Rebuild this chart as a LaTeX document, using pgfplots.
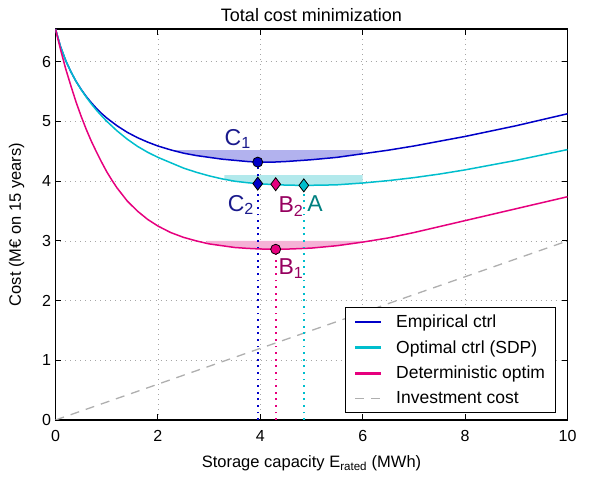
\documentclass[border=0pt]{standalone}
\usepackage{fontspec}
\setmainfont{Liberation Sans}
\usepackage{pgfplots}
\pgfplotsset{compat=1.18}
\definecolor{cblue}{RGB}{0,0,200}
\definecolor{ccyan}{RGB}{0,190,205}
\definecolor{cmag}{RGB}{230,0,126}
\definecolor{fblue}{RGB}{178,178,238}
\definecolor{fcyan}{RGB}{178,233,236}
\definecolor{fmag}{RGB}{245,178,214}
\definecolor{lblue}{RGB}{26,26,140}
\definecolor{lmag}{RGB}{150,0,95}
\definecolor{lteal}{RGB}{0,128,128}
\definecolor{cgray}{RGB}{175,175,175}
\begin{document}
\begin{tikzpicture}
\path[use as bounding box] (-55.5bp,-59bp) rectangle (545.5bp,420bp);
\begin{axis}[
  at={(0,0)}, anchor=south west,
  scale only axis, width=512bp, height=391bp,
  xmin=0, xmax=10, ymin=0, ymax=6.55,
  xtick={0,2,4,6,8,10}, ytick={0,1,2,3,4,5,6},
  tick align=inside, major tick length=6bp,
  grid=major,
  major grid style={black!35, line width=0.8bp, dash pattern=on 1bp off 4bp},
  axis line style={line width=1.2bp},
  tick style={black, line width=1bp},
  ticklabel style={font=\fontsize{16bp}{19bp}\selectfont},
  xticklabel shift=7bp, yticklabel shift=1bp,
  /pgf/number format/assume math mode=true,
  title={Total cost minimization},
  title style={font=\fontsize{18bp}{21bp}\selectfont, yshift=-2bp},
  xlabel={Storage capacity E\textsubscript{rated} (MWh)},
  ylabel={Cost (M€ on 15 years)},
  label style={font=\fontsize{16.5bp}{19bp}\selectfont},
  xlabel shift=7bp, ylabel shift=11bp,
  legend style={at={(0.9785,0.018)}, anchor=south east,
    font=\fontsize{17.5bp}{20bp}\selectfont, draw=black, line width=1bp,
    inner xsep=9bp, inner ysep=5bp, row sep=7.5bp,
    /tikz/every odd column/.append style={column sep=13bp}},
  legend cell align=left,
  legend image code/.code={\fill[#1] (0bp,-0.55bp) rectangle (25bp,0.55bp);},
]
% bands
\addplot[fill=fblue, draw=none, forget plot] coordinates {
 (2.25,4.52) (6.0,4.52) (6.0,4.46) (5.5,4.40) (5.0,4.36) (4.5,4.33) (4.25,4.32)
 (3.95,4.32) (3.75,4.33) (3.5,4.35) (3.25,4.37) (3.0,4.40) (2.75,4.43) (2.5,4.47) (2.25,4.525)} --cycle;
\addplot[fill=fcyan, draw=none, forget plot] coordinates {
 (3.3,4.10) (6.0,4.10) (6.0,3.97) (5.5,3.94) (5.25,3.935) (4.85,3.93) (4.5,3.935)
 (4.25,3.945) (4.0,3.955) (3.75,3.975) (3.5,4.00) (3.3,4.03)} --cycle;
\addplot[fill=fmag, draw=none, forget plot] coordinates {
 (2.95,3.00) (6.0,3.00) (6.0,2.98) (5.5,2.92) (5.0,2.88) (4.6,2.865) (4.3,2.86)
 (4.0,2.865) (3.75,2.875) (3.5,2.89) (3.25,2.92) (3.0,2.95) (2.95,2.955)} --cycle;
% curves
\addplot[cblue, line width=1.5bp] coordinates {
 (0,6.55) (0.1,6.25) (0.2,6.02) (0.3,5.835) (0.4,5.675) (0.5,5.54) (0.6,5.42) (0.7,5.315)
 (0.8,5.22) (0.9,5.135) (1.0,5.06) (1.2,4.93) (1.4,4.82) (1.6,4.73) (1.8,4.655) (2.0,4.59)
 (2.25,4.525) (2.5,4.47) (2.75,4.43) (3.0,4.40) (3.25,4.37) (3.5,4.35) (3.75,4.33) (3.95,4.32)
 (4.25,4.32) (4.5,4.33) (5.0,4.36) (5.5,4.40) (6.0,4.46) (6.5,4.52) (7.0,4.59) (7.5,4.67)
 (8.0,4.75) (8.5,4.84) (9.0,4.93) (9.5,5.03) (10,5.13)};
\addlegendentry{Empirical ctrl}
\addplot[ccyan, line width=1.5bp] coordinates {
 (0,6.55) (0.1,6.25) (0.2,6.02) (0.3,5.835) (0.4,5.675) (0.5,5.535) (0.6,5.41) (0.7,5.295)
 (0.8,5.19) (0.9,5.095) (1.0,5.005) (1.2,4.845) (1.4,4.705) (1.6,4.585) (1.8,4.485) (2.0,4.40)
 (2.25,4.31) (2.5,4.22) (2.75,4.15) (3.0,4.09) (3.25,4.04) (3.5,4.00) (3.75,3.975) (4.0,3.955)
 (4.25,3.945) (4.5,3.935) (4.85,3.93) (5.25,3.935) (5.5,3.94) (6.0,3.97) (6.5,4.01) (7.0,4.06)
 (7.5,4.12) (8.0,4.19) (8.5,4.27) (9.0,4.35) (9.5,4.44) (10,4.53)};
\addlegendentry{Optimal ctrl (SDP)}
\addplot[cmag, line width=1.5bp] coordinates {
 (0,6.55) (0.1,6.20) (0.2,5.88) (0.3,5.60) (0.4,5.33) (0.5,5.09) (0.6,4.87) (0.7,4.67)
 (0.8,4.49) (0.9,4.32) (1.0,4.16) (1.1,4.02) (1.2,3.89) (1.4,3.67) (1.6,3.50) (1.8,3.36)
 (2.0,3.25) (2.25,3.14) (2.5,3.06) (2.75,3.00) (3.0,2.95) (3.25,2.92) (3.5,2.89) (3.75,2.875)
 (4.0,2.865) (4.3,2.86) (4.6,2.865) (5.0,2.88) (5.5,2.92) (6.0,2.98) (6.5,3.05) (7.0,3.14)
 (7.5,3.24) (8.0,3.34) (8.5,3.44) (9.0,3.54) (9.5,3.64) (10,3.74)};
\addlegendentry{Deterministic optim}
\addplot[cgray, line width=1.3bp, dash pattern=on 9bp off 7bp,
  legend image code/.code={\draw[cgray, line width=1.4bp, dash pattern=on 9bp off 7bp] (0bp,0bp) -- (25bp,0bp);}]
  coordinates {(0,0) (10,3)};
\addlegendentry{Investment cost}
% dotted verticals
\addplot[cblue, line width=2bp, dash pattern=on 1.8bp off 4.8bp, forget plot] coordinates {(3.95,0) (3.95,4.32)};
\addplot[cmag, line width=2bp, dash pattern=on 1.8bp off 4.8bp, forget plot] coordinates {(4.30,0) (4.30,2.86)};
\addplot[ccyan, line width=2bp, dash pattern=on 1.8bp off 4.8bp, forget plot] coordinates {(4.85,0) (4.85,3.93)};
% markers
\addplot[only marks, mark=*, mark size=5bp, mark options={fill=cblue, draw=black, line width=0.8bp}, forget plot] coordinates {(3.95,4.32)};
\addplot[only marks, mark=*, mark size=5bp, mark options={fill=cmag, draw=black, line width=0.8bp}, forget plot] coordinates {(4.30,2.86)};
\addplot[only marks, mark=diamond*, mark size=6.5bp, mark options={fill=cblue, draw=black, line width=0.8bp}, forget plot] coordinates {(3.95,3.96)};
\addplot[only marks, mark=diamond*, mark size=6.5bp, mark options={fill=cmag, draw=black, line width=0.8bp}, forget plot] coordinates {(4.30,3.95)};
\addplot[only marks, mark=diamond*, mark size=6.5bp, mark options={fill=ccyan, draw=black, line width=0.8bp}, forget plot] coordinates {(4.85,3.93)};
% labels
\node[text=lblue, font=\fontsize{23bp}{25bp}\selectfont] at (axis cs:3.56,4.71) {C\textsubscript{1}};
\node[text=lblue, font=\fontsize{23bp}{25bp}\selectfont] at (axis cs:3.62,3.60) {C\textsubscript{2}};
\node[text=lmag, font=\fontsize{23bp}{25bp}\selectfont] at (axis cs:4.60,3.58) {B\textsubscript{2}};
\node[text=lteal, font=\fontsize{23bp}{25bp}\selectfont] at (axis cs:5.07,3.62) {A};
\node[text=lmag, font=\fontsize{23bp}{25bp}\selectfont] at (axis cs:4.60,2.54) {B\textsubscript{1}};
\end{axis}
\end{tikzpicture}
\end{document}
